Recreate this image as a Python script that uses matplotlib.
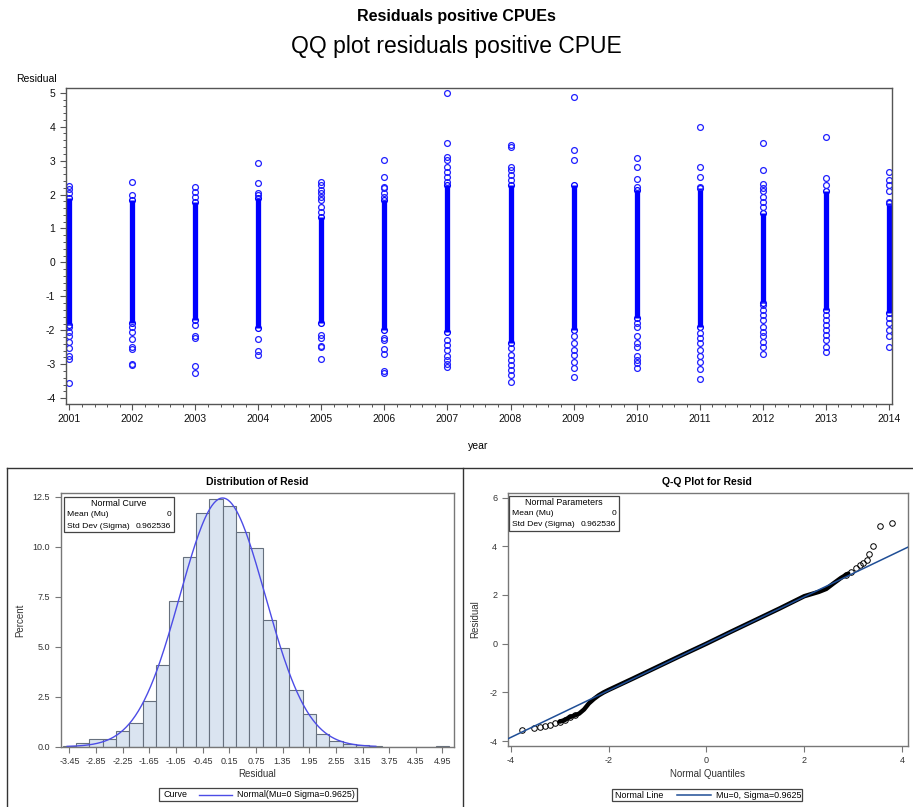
import numpy as np
import matplotlib
matplotlib.use('Agg')
from matplotlib import pyplot as plt
from matplotlib.lines import Line2D
from matplotlib.patches import Rectangle
from matplotlib.ticker import MultipleLocator

plt.rcParams['font.family'] = ['Liberation Sans', 'DejaVu Sans']
plt.rcParams['axes.unicode_minus'] = False

W, H = 913, 807

# --- residuals by year (dense band + individually visible points) ---
years = list(range(2001, 2015))
band_lo = [-1.85, -1.79, -1.69, -1.94, -1.79, -1.99, -2.04, -2.38, -1.99, -1.64, -1.89, -1.20, -1.40, -1.50]
band_hi = [1.90, 1.84, 1.79, 1.89, 1.35, 1.84, 2.28, 2.28, 2.28, 2.13, 2.18, 1.45, 2.09, 1.74]
resid_points = [
    [2.25, 2.15, 2.06, -1.89, -2.04, -2.16, -2.33, -2.53, -2.77, -2.84, -3.56],
    [2.38, 1.99, -1.89, -2.04, -2.26, -2.48, -2.56, -2.99, -3.03],
    [2.21, 2.08, 1.94, -1.84, -2.18, -2.23, -3.04, -3.26],
    [2.94, 2.35, 2.06, 1.99, -2.26, -2.61, -2.72],
    [2.38, 2.28, 2.13, 2.04, 1.94, 1.84, 1.64, 1.50, -2.13, -2.23, -2.46, -2.50, -2.84],
    [3.02, 2.51, 2.23, 2.18, 2.04, 1.94, -2.23, -2.28, -2.54, -2.69, -3.21, -3.26],
    [4.98, 3.53, 3.12, 3.02, 2.82, 2.67, 2.53, 2.38, -2.28, -2.43, -2.58, -2.77, -2.87, -2.99, -3.07],
    [3.46, 3.41, 2.80, 2.72, 2.58, 2.43, -2.53, -2.72, -2.87, -3.02, -3.16, -3.31, -3.51],
    [4.86, 3.31, 3.02, -2.18, -2.38, -2.58, -2.72, -2.92, -3.12, -3.36],
    [3.09, 2.81, 2.45, 2.23, -1.79, -1.89, -2.18, -2.38, -2.48, -2.75, -2.87, -2.97, -3.10],
    [4.00, 2.82, 2.53, 2.23, -2.09, -2.23, -2.38, -2.58, -2.77, -2.92, -3.14, -3.42],
    [3.53, 2.73, 2.31, 2.18, 2.09, 1.94, 1.79, 1.64, -1.25, -1.40, -1.55, -1.69, -1.89,
     -2.04, -2.18, -2.33, -2.48, -2.70],
    [3.70, 2.48, 2.28, -1.55, -1.69, -1.84, -1.99, -2.13, -2.28, -2.48, -2.65],
    [2.65, 2.43, 2.28, 2.09, 1.79, -1.64, -1.79, -1.99, -2.18, -2.50],
]
year_ticks = years
resid_ticks = [-4, -3, -2, -1, 0, 1, 2, 3, 4, 5]

# --- histogram of residuals (percent per 0.3 bin) ---
bin_mid = [-3.45, -3.15, -2.85, -2.55, -2.25, -1.95, -1.65, -1.35, -1.05, -0.75,
           -0.45, -0.15, 0.15, 0.45, 0.75, 1.05, 1.35, 1.65, 1.95, 2.25,
           2.55, 2.85, 3.15, 3.45, 3.75, 4.05, 4.35, 4.65, 4.95]
pct = [0.05, 0.17, 0.40, 0.40, 0.78, 1.17, 2.28, 4.08, 7.27, 9.47,
       11.67, 12.37, 12.02, 10.72, 9.95, 6.35, 4.92, 2.82, 1.63, 0.63,
       0.28, 0.15, 0.07, 0.05, 0.0, 0.0, 0.0, 0.0, 0.03]
bin_width = 0.3
hist_xticks = [-3.45, -2.85, -2.25, -1.65, -1.05, -0.45, 0.15, 0.75, 1.35,
               1.95, 2.55, 3.15, 3.75, 4.35, 4.95]
hist_yticks = [0.0, 2.5, 5.0, 7.5, 10.0, 12.5]
mu, sigma = 0.0, 0.962536

# --- Q-Q plot ---
qq_dense_x = [-3.0, -2.9, -2.8, -2.7, -2.6, -2.5, -2.4, -2.3, -2.2, -2.1, -2.0,
              -1.5, -1.0, -0.5, 0.0, 0.5, 1.0, 1.5, 2.0, 2.3, 2.45, 2.6, 2.75, 2.9]
qq_dense_y = [-3.2, -3.14, -3.02, -2.95, -2.87, -2.7, -2.45, -2.27, -2.12, -2.0, -1.9,
              -1.43, -0.95, -0.47, 0.0, 0.49, 0.97, 1.45, 1.95, 2.13, 2.25, 2.48, 2.7, 2.88]
qq_tail_x = [-3.76, -3.52, -3.41, -3.30, -3.20, -3.10, -2.99, -2.89, -2.79, -2.69,
             2.86, 2.95, 3.05, 3.13, 3.20, 3.28, 3.33, 3.41, 3.55, 3.79]
qq_tail_y = [-3.55, -3.48, -3.41, -3.37, -3.32, -3.27, -3.20, -3.14, -3.02, -2.93,
             2.82, 2.95, 3.10, 3.23, 3.30, 3.45, 3.67, 4.01, 4.85, 4.97]
qq_xticks = [-4, -2, 0, 2, 4]
qq_yticks = [-4, -2, 0, 2, 4, 6]


def fx(px):
    return px / W


def fy(py):
    return 1 - py / H


def box(fig, x0, y0, x1, y1, color='#444444', lw=0.9):
    fig.add_artist(Rectangle((fx(x0), fy(y1)), fx(x1) - fx(x0), fy(y0) - fy(y1),
                             transform=fig.transFigure, fill=False,
                             edgecolor=color, linewidth=lw))


def style_sas(ax, spine_color, label_color, size):
    for s in ax.spines.values():
        s.set_color(spine_color)
        s.set_linewidth(1.0)
    ax.tick_params(axis='both', direction='out', length=4, width=0.8,
                   color=spine_color, labelcolor=label_color, labelsize=size)
    ax.tick_params(top=False, right=False)


fig = plt.figure(figsize=(W / 100, H / 100), dpi=100)

fig.text(fx(456), fy(17), 'Residuals positive CPUEs', ha='center', va='center',
         fontsize=11.5, fontweight='bold')
fig.text(fx(456), fy(47), 'QQ plot residuals positive CPUE', ha='center', va='center',
         fontsize=16.5)

# top scatter
ax = fig.add_axes([fx(65.7), fy(404), fx(892.3) - fx(65.7), fy(88.3) - fy(404)])
ax.vlines(years, band_lo, band_hi, color='#0000ff', linewidth=3.8)
ax.plot(years + years, band_lo + band_hi, linestyle='none', marker='o', markersize=4.2,
        markerfacecolor='none', markeredgecolor='#0000ff', markeredgewidth=0.9)
px_x = [y for y, pts in zip(years, resid_points) for _ in pts]
px_y = [v for pts in resid_points for v in pts]
ax.plot(px_x, px_y, linestyle='none', marker='o', markersize=4.2,
        markerfacecolor='none', markeredgecolor='#2020ff', markeredgewidth=0.9)
ax.set_xlim(2000.943, 2014.057)
ax.set_ylim(-4.17, 5.13)
ax.set_xticks(year_ticks)
ax.set_yticks(resid_ticks)
ax.xaxis.set_minor_locator(MultipleLocator(0.2))
ax.yaxis.set_minor_locator(MultipleLocator(0.2))
style_sas(ax, '#555555', '#111111', 7.5)
ax.tick_params(which='minor', direction='out', length=2.5, width=0.7, color='#555555',
               top=False, right=False)
fig.text(fx(16), fy(79), 'Residual', ha='left', va='center', fontsize=7.5)
fig.text(fx(478), fy(446), 'year', ha='center', va='center', fontsize=7.5)

# panel borders
fig.add_artist(Line2D([fx(7), fx(7)], [0, fy(468)], transform=fig.transFigure,
                      color='#333333', linewidth=1))
fig.add_artist(Line2D([fx(7), 1], [fy(468), fy(468)], transform=fig.transFigure,
                      color='#333333', linewidth=1))
fig.add_artist(Line2D([fx(462.5), fx(462.5)], [0, fy(468)], transform=fig.transFigure,
                      color='#333333', linewidth=1))

# histogram
ax = fig.add_axes([fx(60.7), fy(746.7), fx(454) - fx(60.7), fy(493.3) - fy(746.7)])
ax.bar(bin_mid, pct, width=bin_width, color='#dae4f0', edgecolor='#66707e', linewidth=0.8)
xc = np.linspace(-3.5, 3.45, 300)
yc = 100 * bin_width * np.exp(-0.5 * ((xc - mu) / sigma) ** 2) / (sigma * np.sqrt(2 * np.pi))
ax.plot(xc, yc, color='#4c4ce6', linewidth=1.0)
ax.set_xlim(-3.645, 5.21)
ax.set_ylim(0, 12.67)
ax.set_xticks(hist_xticks)
ax.set_xticklabels([f'{v:.2f}' for v in hist_xticks])
ax.set_yticks(hist_yticks)
ax.set_yticklabels([f'{v:.1f}' for v in hist_yticks])
style_sas(ax, '#777777', '#333333', 6.5)
fig.text(fx(257), fy(482), 'Distribution of Resid', ha='center', va='center',
         fontsize=7.5, fontweight='bold')
fig.text(fx(20), fy(620), 'Percent', ha='center', va='center', rotation=90,
         fontsize=7, color='#333333')
fig.text(fx(257), fy(774), 'Residual', ha='center', va='center', fontsize=7, color='#333333')

box(fig, 64, 497, 174, 532)
fig.text(fx(119), fy(503.5), 'Normal Curve', ha='center', va='center', fontsize=6.4)
fig.text(fx(67), fy(514.7), 'Mean (Mu)', ha='left', va='center', fontsize=6.1)
fig.text(fx(171), fy(514.7), '0', ha='right', va='center', fontsize=6.1)
fig.text(fx(67), fy(526), 'Std Dev (Sigma)', ha='left', va='center', fontsize=6.1)
fig.text(fx(171), fy(526), f'{sigma:.6f}', ha='right', va='center', fontsize=6.1)

box(fig, 159, 788, 357, 801)
fig.text(fx(163), fy(794.5), 'Curve', ha='left', va='center', fontsize=6.4)
fig.add_artist(Line2D([fx(199), fx(232)], [fy(794.5), fy(794.5)], transform=fig.transFigure,
                      color='#4c4ce6', linewidth=1.0))
fig.text(fx(237), fy(794.5), f'Normal(Mu={mu:g} Sigma={sigma:.4f})', ha='left',
         va='center', fontsize=6.4)

# Q-Q plot
ax = fig.add_axes([fx(507.7), fy(746), fx(908) - fx(507.7), fy(492.7) - fy(746)])
xl = np.array([-4.06, 4.12])
ax.plot(xl, mu + sigma * xl, color='#1f4e96', linewidth=1.1, zorder=3)
ax.plot(qq_dense_x, qq_dense_y, color='black', linewidth=3.2, solid_capstyle='round', zorder=2)
ax.plot(qq_tail_x, qq_tail_y, linestyle='none', marker='o', markersize=4.0,
        markerfacecolor='none', markeredgecolor='black', markeredgewidth=0.7, zorder=2)
ax.set_xlim(-4.06, 4.12)
ax.set_ylim(-4.2, 6.2)
ax.set_xticks(qq_xticks)
ax.set_yticks(qq_yticks)
style_sas(ax, '#777777', '#333333', 6.5)
fig.text(fx(707), fy(482), 'Q-Q Plot for Resid', ha='center', va='center',
         fontsize=7.5, fontweight='bold')
fig.text(fx(475), fy(619), 'Residual', ha='center', va='center', rotation=90,
         fontsize=7, color='#333333')
fig.text(fx(707), fy(774), 'Normal Quantiles', ha='center', va='center', fontsize=7,
         color='#333333')

box(fig, 509, 496, 619, 531)
fig.text(fx(564), fy(502), 'Normal Parameters', ha='center', va='center', fontsize=6.4)
fig.text(fx(512), fy(513.3), 'Mean (Mu)', ha='left', va='center', fontsize=6.1)
fig.text(fx(616), fy(513.3), '0', ha='right', va='center', fontsize=6.1)
fig.text(fx(512), fy(524.5), 'Std Dev (Sigma)', ha='left', va='center', fontsize=6.1)
fig.text(fx(616), fy(524.5), f'{sigma:.6f}', ha='right', va='center', fontsize=6.1)

box(fig, 612, 789, 802, 801)
fig.text(fx(615), fy(795), 'Normal Line', ha='left', va='center', fontsize=6.4)
fig.add_artist(Line2D([fx(677), fx(711)], [fy(795), fy(795)], transform=fig.transFigure,
                      color='#1f4e96', linewidth=1.1))
fig.text(fx(716), fy(795), f'Mu={mu:g}, Sigma={sigma:.4f}', ha='left', va='center',
         fontsize=6.4)

fig.savefig('out.png', dpi=100)
